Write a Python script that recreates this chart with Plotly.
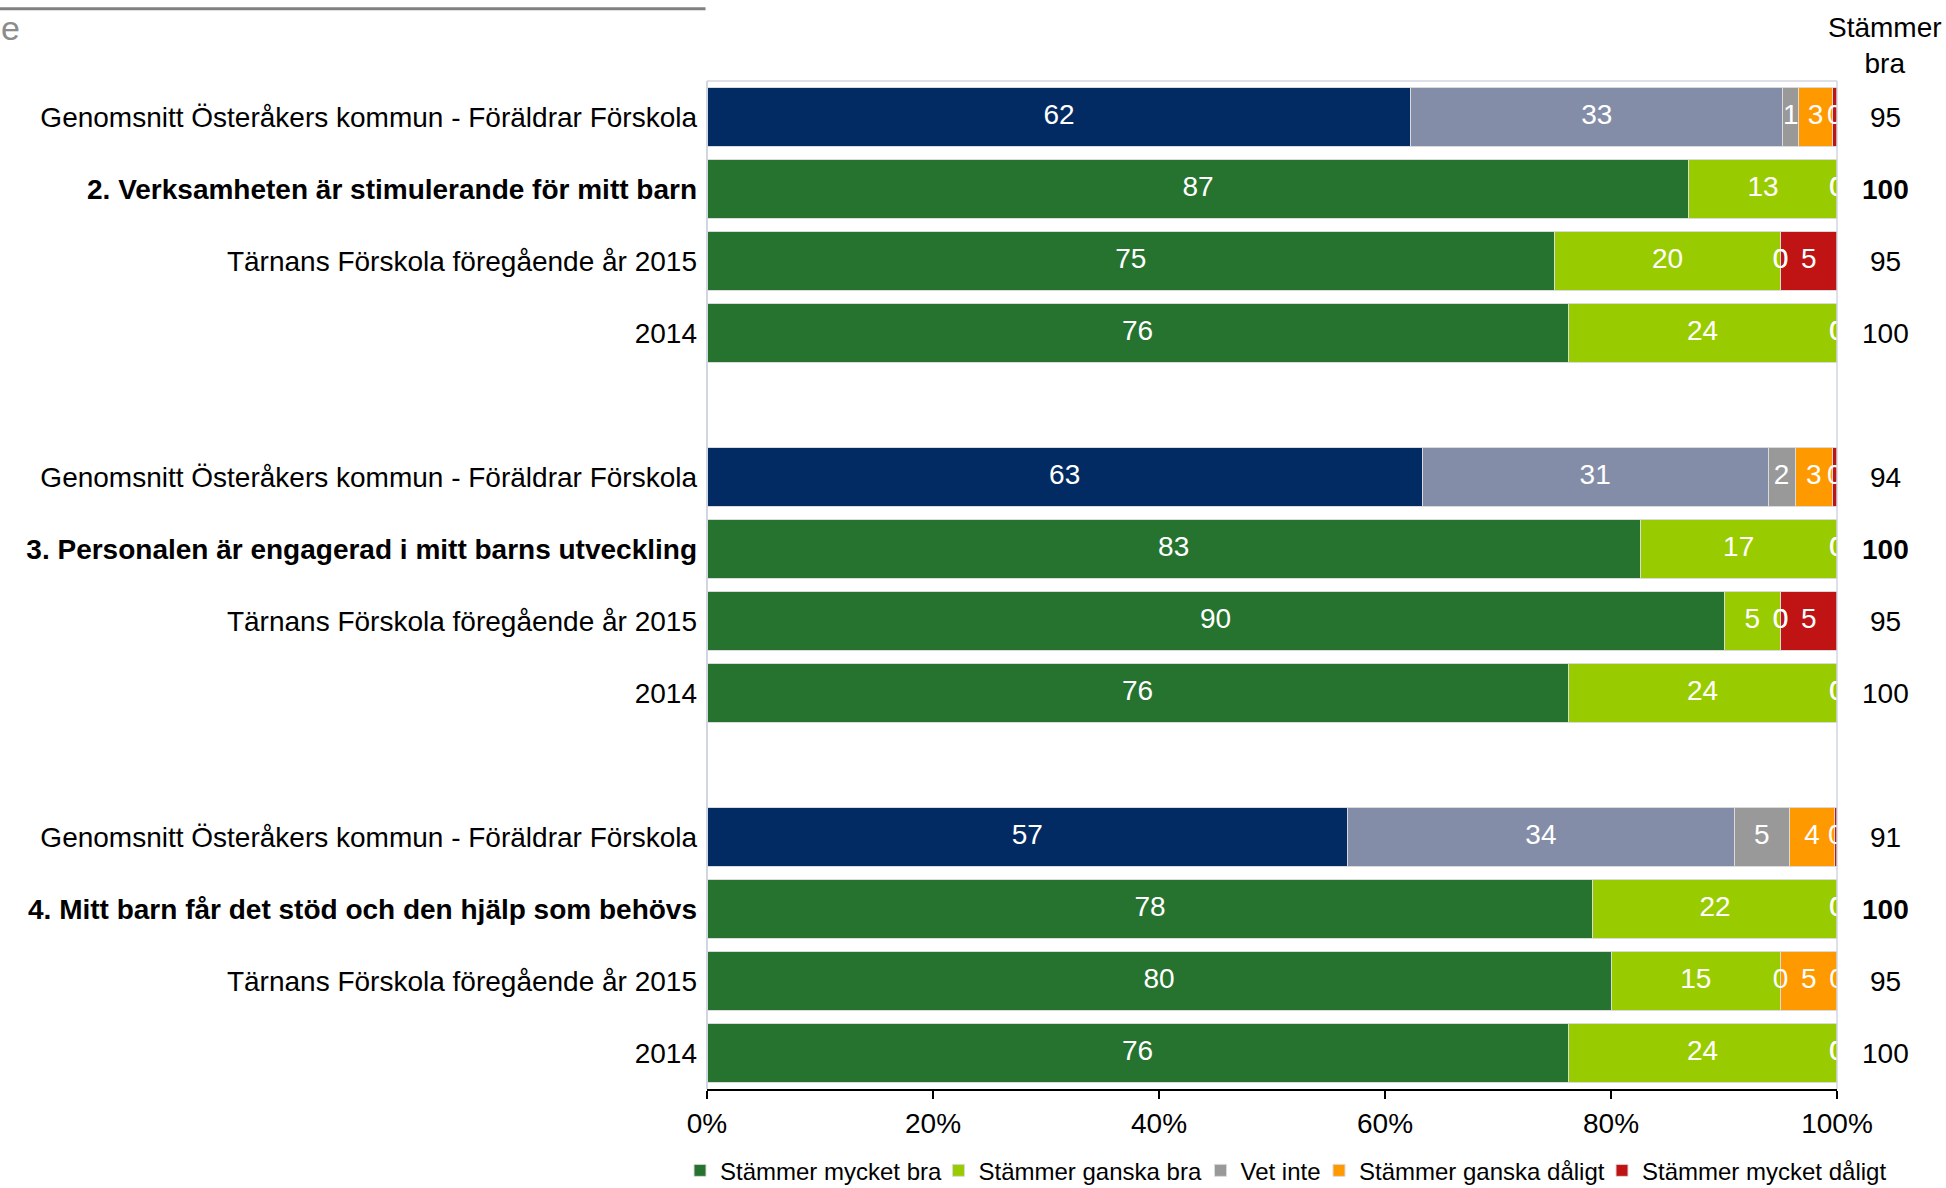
import plotly.graph_objects as go

# ---------------- data ----------------
row_labels = [
    "Genomsnitt Österåkers kommun - Föräldrar Förskola",
    "2. Verksamheten är stimulerande för mitt barn",
    "Tärnans Förskola föregående år 2015",
    "2014",
    "",
    "Genomsnitt Österåkers kommun - Föräldrar Förskola",
    "3. Personalen är engagerad i mitt barns utveckling",
    "Tärnans Förskola föregående år 2015",
    "2014",
    "",
    "Genomsnitt Österåkers kommun - Föräldrar Förskola",
    "4. Mitt barn får det stöd och den hjälp som behövs",
    "Tärnans Förskola föregående år 2015",
    "2014",
]
bold_rows = [False, True, False, False, False,
             False, True, False, False, False,
             False, True, False, False]
is_average = [True, False, False, False, False,
              True, False, False, False, False,
              True, False, False, False]

mycket_bra    = [62.3, 86.9, 75.0, 76.2, None, 63.3, 82.6, 90.0, 76.2, None, 56.7, 78.4, 80.0, 76.2]
ganska_bra    = [32.9, 13.1, 20.0, 23.8, None, 30.6, 17.4, 5.0, 23.8, None, 34.2, 21.6, 15.0, 23.8]
vet_inte      = [1.4, 0.0, 0.0, 0.0, None, 2.4, 0.0, 0.0, 0.0, None, 4.9, 0.0, 0.0, 0.0]
ganska_daligt = [3.0, 0.0, 0.0, 0.0, None, 3.3, 0.0, 0.0, 0.0, None, 4.0, 0.0, 5.0, 0.0]
mycket_daligt = [0.4, 0.0, 5.0, 0.0, None, 0.4, 0.0, 5.0, 0.0, None, 0.2, 0.0, 0.0, 0.0]

stammer_bra = [95, 100, 95, 100, None, 94, 100, 95, 100, None, 91, 100, 95, 100]

series_names = ["Stämmer mycket bra", "Stämmer ganska bra", "Vet inte",
                "Stämmer ganska dåligt", "Stämmer mycket dåligt"]
x_ticks = [0, 20, 40, 60, 80, 100]

# ---------------- styles ----------------
FONT = "Liberation Sans, Arial, sans-serif"
W, H = 1946, 1188
C_GREEN = "#267330"
C_LGREEN = "#99CC00"
C_NAVY = "#022B63"
C_GREYBLUE = "#838DA7"
C_GREY = "#999999"
C_ORANGE = "#FF9900"
C_RED = "#C01414"
C_BORDER = "#D2D6E2"
LINE = dict(color="#DADADA", width=1)
# legend entry symbol centres (pixels from the left of the page)
LEGEND_SYMBOL_PX = [699, 957.5, 1219.5, 1338, 1621]
LEGEND_IDS = ["legend", "legend2", "legend3", "legend4", "legend5"]

rows = list(range(len(row_labels)))


def only(values, keep):
    return [v if (v is not None and keep[i]) else None for i, v in enumerate(values)]


not_avg = [not a for a in is_average]

fig = go.Figure()


def add_bar(name, values, color, legend_idx=None):
    fig.add_trace(go.Bar(
        name=name, x=values, y=rows, orientation="h",
        marker=dict(color=color, line=LINE),
        showlegend=legend_idx is not None,
        legend=LEGEND_IDS[legend_idx] if legend_idx is not None else "legend",
        hoverinfo="x+name",
    ))


add_bar(series_names[0], only(mycket_bra, not_avg), C_GREEN, 0)
add_bar(series_names[0] + " (Genomsnitt)", only(mycket_bra, is_average), C_NAVY)
add_bar(series_names[1], only(ganska_bra, not_avg), C_LGREEN, 1)
add_bar(series_names[1] + " (Genomsnitt)", only(ganska_bra, is_average), C_GREYBLUE)
add_bar(series_names[2], vet_inte, C_GREY, 2)
add_bar(series_names[3], ganska_daligt, C_ORANGE, 3)
add_bar(series_names[4], mycket_daligt, C_RED, 4)

# segment value labels (centred in each segment, clipped at the plot edge)
lab_x, lab_y, lab_t = [], [], []
for i in rows:
    seg = [mycket_bra[i], ganska_bra[i], vet_inte[i], ganska_daligt[i], mycket_daligt[i]]
    if seg[0] is None:
        continue
    cum = 0.0
    for v in seg:
        lab_x.append(cum + v / 2.0)
        lab_y.append(i)
        lab_t.append(str(int(v + 0.5)))
        cum += v

fig.add_trace(go.Scatter(
    x=lab_x, y=lab_y, text=lab_t, mode="text",
    textposition="middle center",
    textfont=dict(family=FONT, size=28, color="white"),
    cliponaxis=True, showlegend=False, hoverinfo="skip",
))

tick_text = [f"<b>{t}</b>" if b else t for t, b in zip(row_labels, bold_rows)]

annotations = []
for i, v in enumerate(stammer_bra):
    if v is None:
        continue
    annotations.append(dict(
        x=1.0425, xref="paper", y=i, yref="y",
        text=f"<b>{v}</b>" if bold_rows[i] else str(v),
        showarrow=False, xanchor="center", yanchor="middle",
        font=dict(family=FONT, size=28, color="black"),
    ))
annotations.append(dict(
    x=1.0425, xref="paper", y=1.0355, yref="paper",
    text="Stämmer<br>bra", showarrow=False, xanchor="center", yanchor="middle",
    font=dict(family=FONT, size=28, color="black"),
))
annotations.append(dict(
    x=-0.6262, xref="paper", y=1.0525, yref="paper",
    text="e", showarrow=False, xanchor="left", yanchor="middle",
    font=dict(family=FONT, size=34, color="#8C8C8C"),
))

shapes = [
    # plot frame (left, top, right)
    dict(type="line", xref="paper", yref="paper", x0=0, x1=0, y0=0, y1=1,
         line=dict(color=C_BORDER, width=2), layer="above"),
    dict(type="line", xref="paper", yref="paper", x0=0, x1=1, y0=1, y1=1,
         line=dict(color=C_BORDER, width=1.5), layer="above"),
    dict(type="line", xref="paper", yref="paper", x0=1, x1=1, y0=0, y1=1,
         line=dict(color=C_BORDER, width=1.5), layer="above"),
    # remnant title rule top-left
    dict(type="line", xref="paper", yref="paper", x0=-0.6264, x1=-0.0013,
         y0=1.0716, y1=1.0716, line=dict(color="#808080", width=3)),
]

legend_layouts = {}
for lid, px in zip(LEGEND_IDS, LEGEND_SYMBOL_PX):
    legend_layouts[lid] = dict(
        orientation="h", xref="container", x=(px - 19) / W, xanchor="left",
        yref="container", y=0.0145, yanchor="middle",
        font=dict(family=FONT, size=24, color="black"),
        itemwidth=30, bgcolor="rgba(0,0,0,0)", borderwidth=0,
    )

fig.update_layout(
    width=W, height=H,
    template="none",
    barmode="stack", bargap=0.167,
    paper_bgcolor="white", plot_bgcolor="white",
    font=dict(family=FONT, size=28, color="black"),
    margin=dict(l=707, r=109, t=81, b=99, pad=0),
    xaxis=dict(
        range=[0, 100], tickvals=x_ticks, ticktext=[f"{t}%" for t in x_ticks],
        showgrid=False, zeroline=False,
        showline=True, linecolor="black", linewidth=2,
        ticks="outside", ticklen=8, tickwidth=1.5, tickcolor="black",
        tickfont=dict(family=FONT, size=28, color="black"),
        automargin=False,
    ),
    yaxis=dict(
        range=[13.5, -0.5], tickvals=rows, ticktext=tick_text,
        showgrid=False, zeroline=False, showline=False,
        ticks="", ticklabelstandoff=9,
        tickfont=dict(family=FONT, size=28, color="black"),
        automargin=False,
    ),
    annotations=annotations,
    shapes=shapes,
    showlegend=True,
    **legend_layouts,
)

fig.write_html(
    "out.html",
    config={"displayModeBar": False},
    post_script="document.body.style.margin='0';document.body.style.overflow='hidden';",
)
